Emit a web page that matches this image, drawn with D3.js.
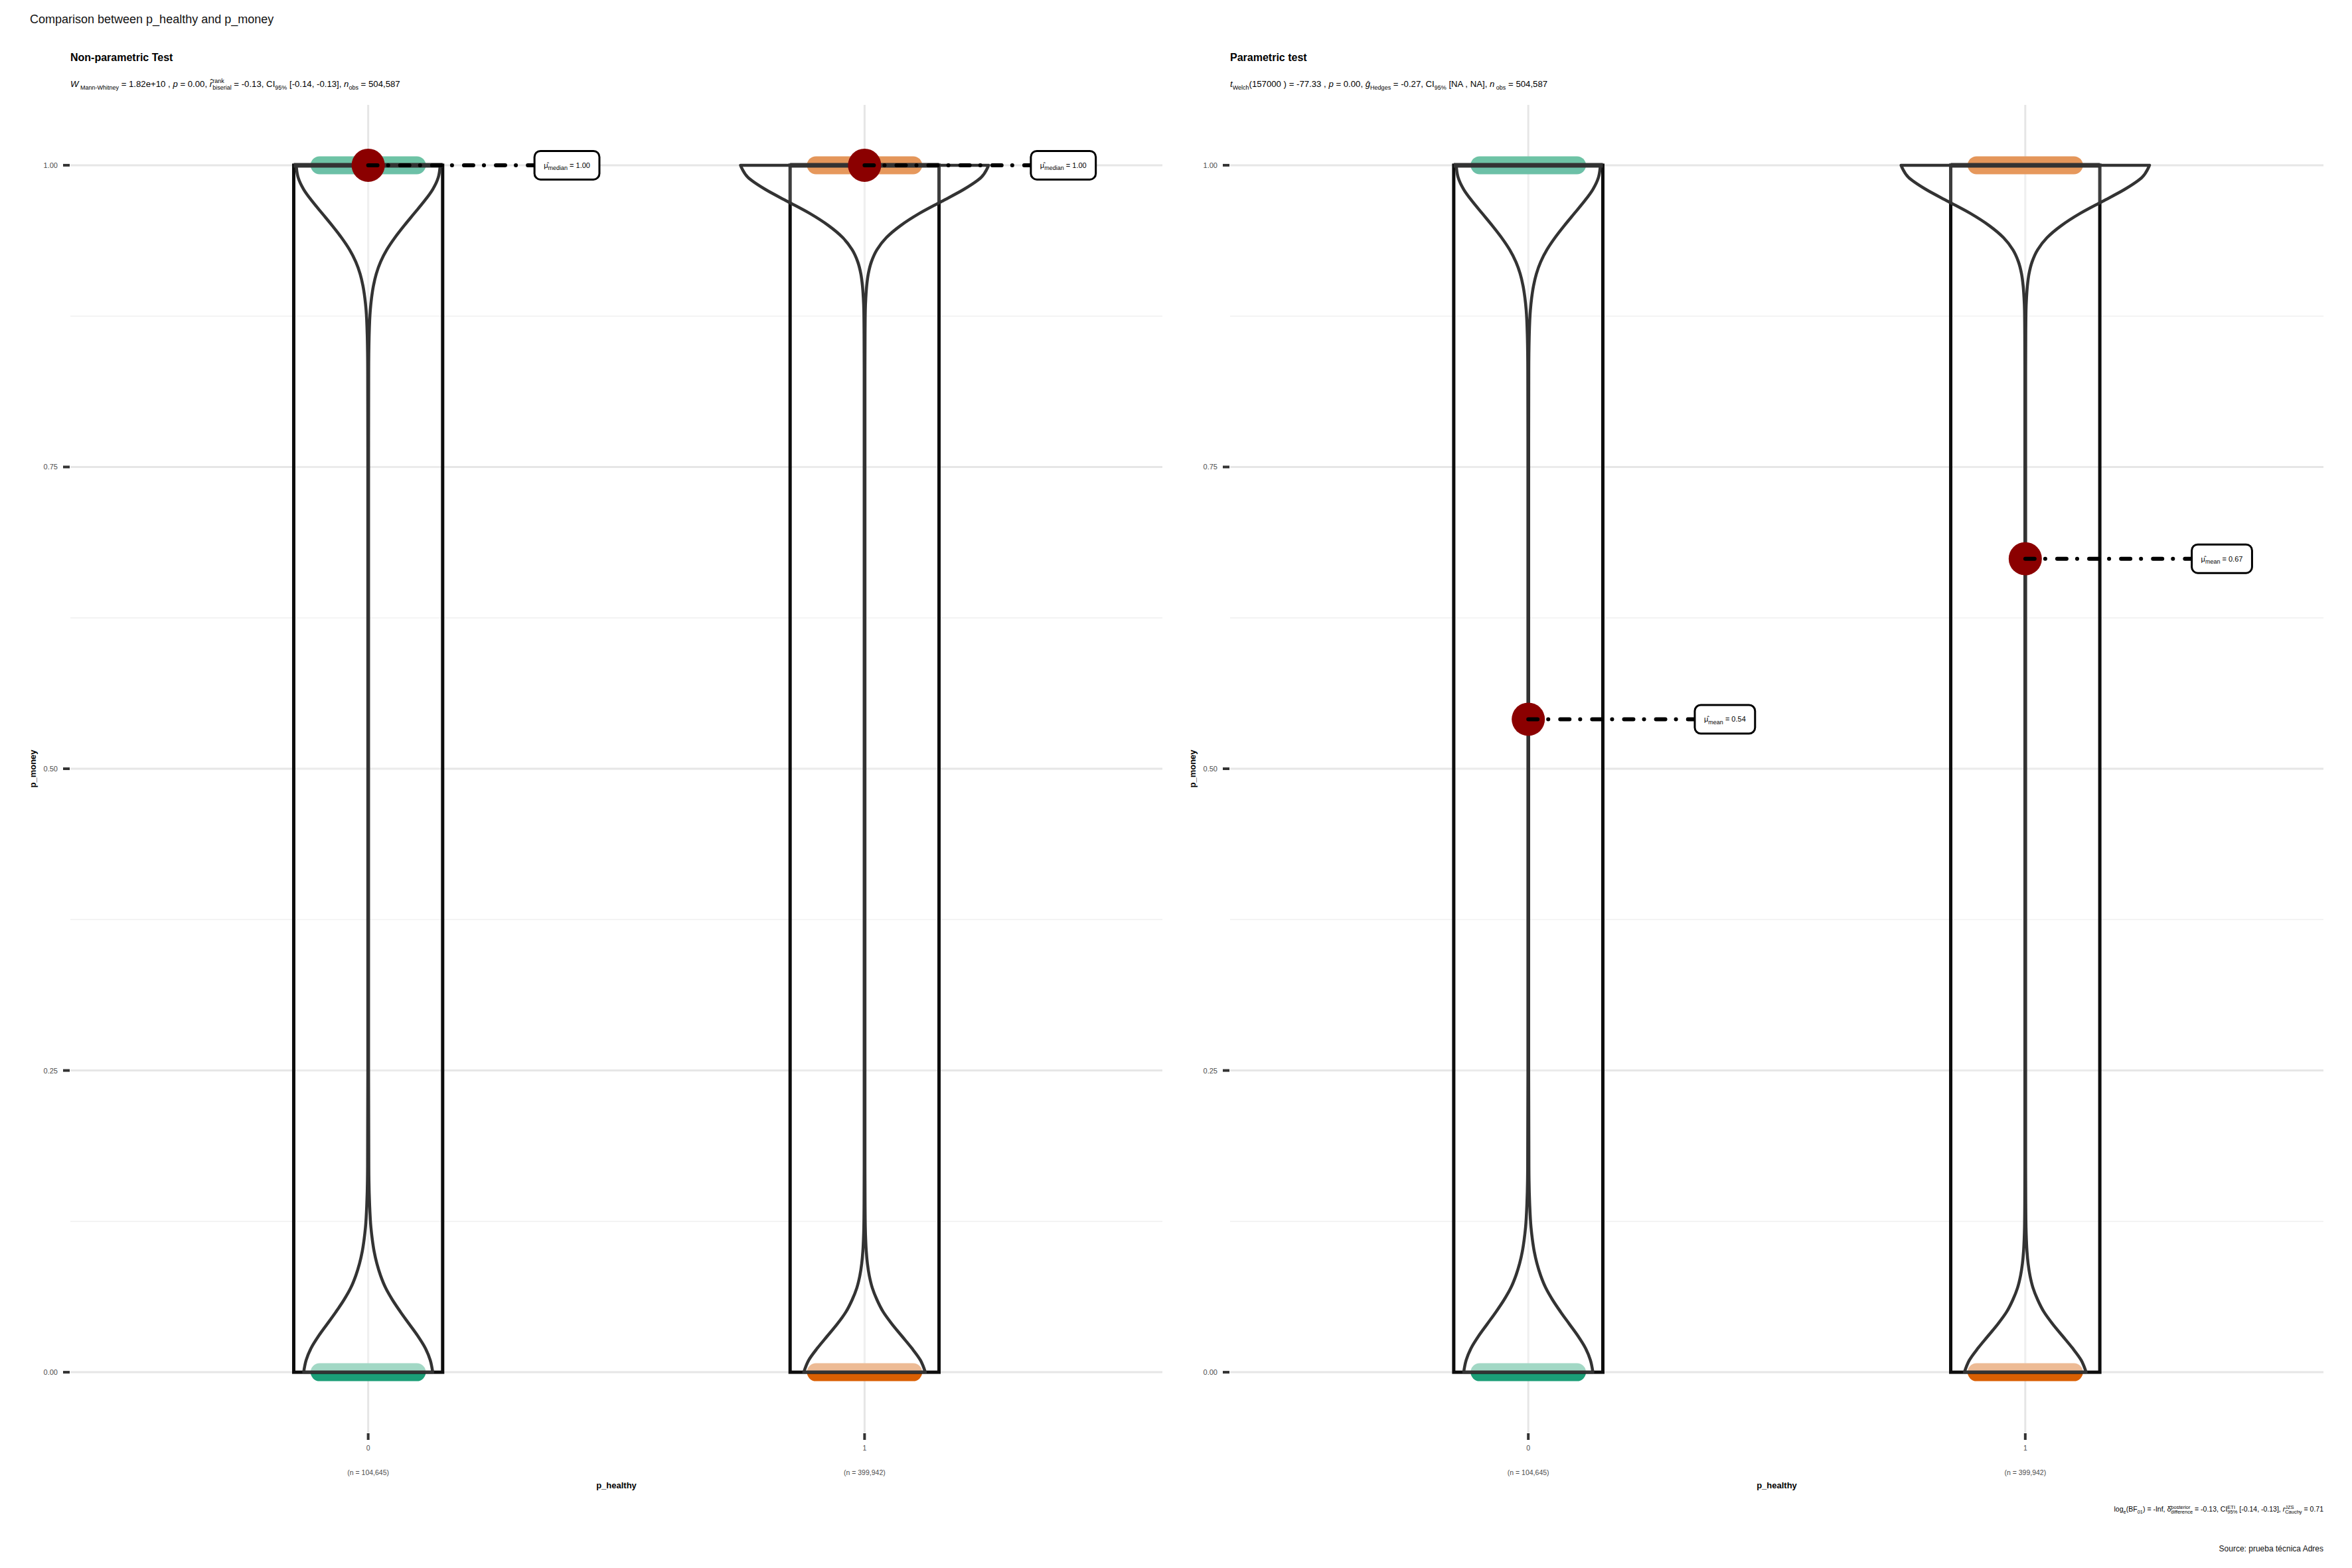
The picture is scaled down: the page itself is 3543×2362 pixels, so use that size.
<!DOCTYPE html>
<html><head><meta charset="utf-8">
<script src="https://cdn.jsdelivr.net/npm/d3@7"></script>
<style>
body{margin:0;background:#fff}
svg{display:block}
text{font-family:"Liberation Sans",Arial,Helvetica,sans-serif;white-space:pre}
</style>
</head><body>
<svg id="c" width="3543" height="2362" xml:space="preserve"></svg>
<script>
// ---------------- DATA ----------------
const groups = ["0", "1"];
const groupN = ["104,645", "399,942"];
const medians = [1.00, 1.00];
const means = [0.541, 0.674];
const boxLow = [0, 0];
const boxHigh = [1, 1];
const boxMedian = [1, 1];
const pointLevels = [0, 1];
const yTicks = [0, 0.25, 0.5, 0.75, 1];
const yTickLabels = ["0.00", "0.25", "0.50", "0.75", "1.00"];
const yMinor = [0.125, 0.375, 0.625, 0.875];
// violin density profile (relative width, 1 = widest violin)
const violinLevels = [0,0.01,0.02,0.03,0.04,0.05,0.06,0.07,0.08,0.09,0.10,0.11,0.12,0.14,0.17,0.25,0.5,0.75,0.83,0.86,0.88,0.89,0.90,0.91,0.92,0.93,0.94,0.95,0.96,0.97,0.98,0.99,1.00];
const violinDensity0 = [0.52,0.50,0.46,0.40,0.33,0.26,0.195,0.14,0.10,0.07,0.048,0.033,0.022,0.011,0.005,0.003,0.003,0.003,0.004,0.008,0.017,0.027,0.042,0.065,0.10,0.15,0.215,0.29,0.37,0.45,0.52,0.565,0.58];
const violinDensity1 = [0.49,0.45,0.38,0.30,0.22,0.15,0.10,0.062,0.038,0.023,0.014,0.009,0.006,0.004,0.003,0.003,0.003,0.003,0.003,0.004,0.006,0.010,0.017,0.03,0.055,0.10,0.175,0.29,0.44,0.62,0.80,0.94,1.00];
const violinDensity = [violinDensity0, violinDensity1];

const chartTitle = "Comparison between p_healthy and p_money";
const xTitle = "p_healthy";
const yTitle = "p_money";
const sourceText = "Source: prueba técnica Adres";

const subLeft = [
  {t:"W", i:true}, {sub:" Mann-Whitney"}, {t:" = 1.82e+10 , "}, {t:"p", i:true}, {t:" = 0.00, "},
  {t:"r\u0302", i:true, sup:"rank", sub:"biserial"}, {t:" = -0.13, CI"}, {sub:"95%"},
  {t:" [-0.14, -0.13], "}, {t:"n", i:true}, {sub:"obs"}, {t:" = 504,587"}
];
const subRight = [
  {t:"t", i:true}, {sub:"Welch"}, {t:"(157000 ) = -77.33 , "}, {t:"p", i:true}, {t:" = 0.00, "},
  {t:"\u011d", i:true, sub:"Hedges"}, {t:" = -0.27, CI"}, {sub:"95%"},
  {t:" [NA , NA], "}, {t:"n", i:true}, {sub:" obs"}, {t:" = 504,587"}
];
const captionSegs = [
  {t:"log"}, {sub:"e"}, {t:"(BF"}, {sub:"01"}, {t:") = -Inf, "},
  {t:"\u03b4\u0302", sup:"posterior", sub:"difference"}, {t:" = -0.13, CI"}, {sup:"ETI", sub:"95%"},
  {t:" [-0.14, -0.13], "}, {t:"r", i:true, sup:"JZS", sub:"Cauchy"}, {t:" = 0.71"}
];

// ---------------- STYLE / LAYOUT ----------------
const darkCol = ["#1b9e77", "#d95f02"];
const lightCol = ["#6ec3a5", "#e4965a"];
const panels = [
  {x0:106, x1:1751, title:"Non-parametric Test", stat:"median", centers:medians, sub:subLeft},
  {x0:1853, x1:3500, title:"Parametric test", stat:"mean", centers:means, sub:subRight}
];
const svg = d3.select("#c");
svg.append("rect").attr("width",3543).attr("height",2362).attr("fill","#fff");
const y = d3.scaleLinear().domain([-0.05, 1.05]).range([2158, 158]);

function rich(g, x, yy, segs, opt) {
  const size = opt.size, ss = opt.ss, fill = opt.fill || "#000";
  const grp = g.append("g");
  let cx = 0;
  segs.forEach(s => {
    if (s.t !== undefined) {
      const t = grp.append("text").attr("x", cx).attr("y", 0).attr("font-size", size)
        .attr("xml:space", "preserve")
        .attr("fill", fill).style("font-style", s.i ? "italic" : "normal").text(s.t);
      cx += t.node().getComputedTextLength();
    }
    if (s.sub !== undefined || s.sup !== undefined) {
      let w = 0;
      if (s.sup !== undefined) {
        const t = grp.append("text").attr("x", cx).attr("y", -size * 0.42).attr("font-size", ss)
          .attr("xml:space", "preserve").attr("fill", fill).text(s.sup);
        w = Math.max(w, t.node().getComputedTextLength());
      }
      if (s.sub !== undefined) {
        const t = grp.append("text").attr("x", cx).attr("y", size * 0.32).attr("font-size", ss)
          .attr("xml:space", "preserve").attr("fill", fill).text(s.sub);
        w = Math.max(w, t.node().getComputedTextLength());
      }
      cx += w;
    }
  });
  const tx = opt.anchor === "end" ? x - cx : (opt.anchor === "middle" ? x - cx / 2 : x);
  grp.attr("transform", `translate(${tx},${yy})`);
  return cx;
}

function stadiumHalf(x0, x1, yc, r, upper) {
  const s = upper ? -1 : 1, sw = upper ? 1 : 0;
  return `M${x0},${yc} A${r},${r} 0 0 ${sw} ${x0 + r},${yc + s * r} L${x1 - r},${yc + s * r} A${r},${r} 0 0 ${sw} ${x1},${yc} Z`;
}

// chart title
svg.append("text").attr("x", 45).attr("y", 35).attr("font-size", 18).attr("fill", "#111").text(chartTitle);

panels.forEach((P, pi) => {
  const g = svg.append("g");
  const x = d3.scalePoint().domain(groups).range([P.x0, P.x1]).padding(0.6);
  const step = x.step();

  // titles
  g.append("text").attr("x", P.x0).attr("y", 92).attr("font-size", 16).attr("font-weight", "bold").text(P.title);
  rich(g, P.x0, 131, P.sub, {size:13.2, ss:9});

  // grid
  g.selectAll(".mn").data(yMinor).join("line")
    .attr("x1", P.x0).attr("x2", P.x1).attr("y1", d => y(d)).attr("y2", d => y(d))
    .attr("stroke", "#f0f0f0").attr("stroke-width", 1.5);
  g.selectAll(".mj").data(yTicks).join("line")
    .attr("x1", P.x0).attr("x2", P.x1).attr("y1", d => y(d)).attr("y2", d => y(d))
    .attr("stroke", "#e6e6e6").attr("stroke-width", 3);
  g.selectAll(".vx").data(groups).join("line")
    .attr("x1", d => x(d)).attr("x2", d => x(d)).attr("y1", y(1.05)).attr("y2", y(-0.05))
    .attr("stroke", "#e6e6e6").attr("stroke-width", 3);

  // y axis
  g.selectAll(".yt").data(yTicks).join("line")
    .attr("x1", P.x0 - 11).attr("x2", P.x0 - 1).attr("y1", d => y(d)).attr("y2", d => y(d))
    .attr("stroke", "#333").attr("stroke-width", 4);
  g.selectAll(".yl").data(yTicks).join("text")
    .attr("x", P.x0 - 19).attr("y", d => y(d) + 4).attr("text-anchor", "end")
    .attr("font-size", 11).attr("fill", "#4d4d4d").text((d, i) => yTickLabels[i]);
  g.append("text").attr("transform", `translate(${P.x0 - 52},${y(0.5)}) rotate(-90)`)
    .attr("text-anchor", "middle").attr("font-size", 13).attr("font-weight", "bold").text(yTitle);

  // x axis
  g.selectAll(".xt").data(groups).join("line")
    .attr("x1", d => x(d)).attr("x2", d => x(d)).attr("y1", y(-0.05) + 1).attr("y2", y(-0.05) + 11)
    .attr("stroke", "#333").attr("stroke-width", 4);
  g.selectAll(".xl").data(groups).join("text")
    .attr("x", d => x(d)).attr("y", y(-0.05) + 27).attr("text-anchor", "middle")
    .attr("font-size", 10.5).attr("fill", "#4d4d4d").text(d => d);
  g.selectAll(".xn").data(groups).join("text")
    .attr("x", d => x(d)).attr("y", y(-0.05) + 64).attr("text-anchor", "middle")
    .attr("font-size", 10.5).attr("fill", "#4d4d4d").text((d, i) => `(n = ${groupN[i]})`);
  g.append("text").attr("x", (P.x0 + P.x1) / 2).attr("y", y(-0.05) + 84).attr("text-anchor", "middle")
    .attr("font-size", 13).attr("font-weight", "bold").text(xTitle);

  groups.forEach((gr, gi) => {
    const c = x(gr);
    // jittered points forming bands
    const bh = 0.116 * step;
    pointLevels.forEach(lv => {
      const yc = y(lv);
      g.append("path").attr("d", stadiumHalf(c - bh, c + bh, yc, 13.5, true)).attr("fill", lightCol[gi]);
      g.append("path").attr("d", stadiumHalf(c - bh, c + bh, yc, 13.5, false)).attr("fill", darkCol[gi]);
    });
    // box
    const bw = 0.15 * step;
    g.append("rect").attr("x", c - bw).attr("width", 2 * bw)
      .attr("y", y(boxHigh[gi])).attr("height", y(boxLow[gi]) - y(boxHigh[gi]))
      .attr("fill", "#fff").attr("fill-opacity", 0.2).attr("stroke", "#0d0d0d").attr("stroke-width", 5);
    // violin
    const dens = violinDensity[gi];
    const pts = violinLevels.map((v, k) => ({v, w: dens[k] * 0.25 * step}));
    const area = d3.area().curve(d3.curveMonotoneY)
      .y(d => y(d.v)).x0(d => c - d.w).x1(d => c + d.w);
    g.append("path").attr("d", area(pts)).attr("fill", "#fff").attr("fill-opacity", 0.2)
      .attr("stroke", "#333").attr("stroke-width", 4.5).attr("stroke-linejoin", "round");
    // median line
    g.append("line").attr("x1", c - bw).attr("x2", c + bw)
      .attr("y1", y(boxMedian[gi])).attr("y2", y(boxMedian[gi]))
      .attr("stroke", "#333").attr("stroke-width", 7);
    // centrality point
    const cv = P.centers[gi];
    g.append("circle").attr("cx", c).attr("cy", y(cv)).attr("r", 25).attr("fill", "#8b0000");
    // label
    const lx = c + 0.335 * step;
    g.append("line").attr("x1", c).attr("x2", lx).attr("y1", y(cv)).attr("y2", y(cv))
      .attr("stroke", "#000").attr("stroke-width", 6).attr("stroke-linecap", "round")
      .attr("stroke-dasharray", "14 16 0.1 18");
    const lg = g.append("g");
    const rectSel = lg.append("rect");
    const tw = rich(lg, lx + 14, y(cv) + 4,
      [{t:"\u03bc\u0302"}, {sub:P.stat}, {t:" = " + d3.format(".2f")(cv)}], {size:11, ss:9});
    rectSel.attr("x", lx).attr("y", y(cv) - 21.5).attr("width", tw + 28).attr("height", 43)
      .attr("rx", 9).attr("fill", "#fff").attr("stroke", "#000").attr("stroke-width", 3);
  });
});

// caption
rich(svg, 3500, 2277, captionSegs, {size:10.5, ss:7.5, anchor:"end"});
svg.append("text").attr("x", 3500).attr("y", 2337).attr("text-anchor", "end")
  .attr("font-size", 12).attr("fill", "#111").text(sourceText);
</script>
</body></html>
